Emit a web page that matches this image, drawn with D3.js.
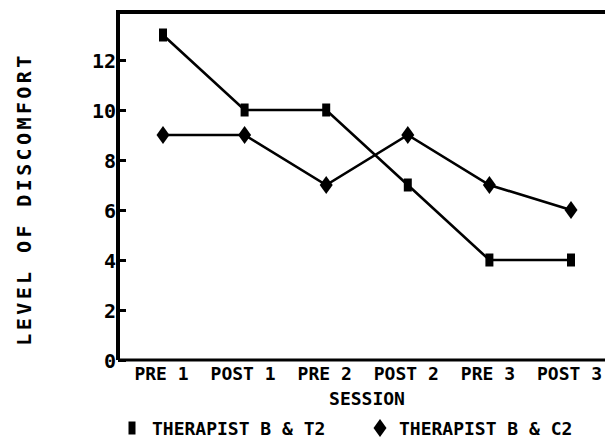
<!DOCTYPE html>
<html>
<head>
<meta charset="utf-8">
<script src="https://cdn.jsdelivr.net/npm/d3@7"></script>
<style>
  body { margin: 0; background: #fff; }
  text { font-family: "DejaVu Sans Mono", monospace; font-weight: bold; fill: #000; }
</style>
</head>
<body>
<svg width="605" height="445"></svg>
<script>
const sessions = ["PRE 1", "POST 1", "PRE 2", "POST 2", "PRE 3", "POST 3"]
const therapistT2 = [13, 10, 10, 7, 4, 4]
const therapistC2 = [9, 9, 7, 9, 7, 6]
const yTicks = [0, 2, 4, 6, 8, 10, 12]
const seriesNames = ["THERAPIST B & T2", "THERAPIST B & C2"]

const svg = d3.select("svg")
const plotLeft = 118, plotTop = 12, plotBottom = 360

const x = d3.scalePoint().domain(sessions).range([163, 571])
const y = d3.scaleLinear().domain([0, 14]).range([plotBottom, plotTop - 2])

// frame: top, left and bottom edges (the right one runs off the page)
svg.append("path")
    .attr("d", `M${plotLeft},${plotBottom}V${plotTop}H605`)
    .attr("fill", "none").attr("stroke", "#000").attr("stroke-width", 4)

// y axis, ticks point inward
const yAxis = svg.append("g")
    .attr("transform", `translate(${plotLeft},0)`)
    .call(d3.axisRight(y).tickValues(yTicks).tickSize(8).tickFormat(d3.format("d")))
yAxis.select(".domain").remove()
yAxis.selectAll("line").attr("stroke-width", 3)
yAxis.selectAll("text")
    .attr("x", -2).attr("text-anchor", "end").attr("dy", "0.35em")
    .style("font-size", "20px")

// x axis
const xAxis = svg.append("g")
    .attr("transform", `translate(0,${plotBottom})`)
    .call(d3.axisBottom(x).tickSize(0).tickPadding(7))
xAxis.select(".domain").attr("d", `M${plotLeft},0H605`).attr("stroke-width", 3)
xAxis.selectAll("text")
    .attr("dx", -2)
    .style("font-size", "18px")

svg.append("text")
    .attr("x", 367).attr("y", 405)
    .attr("text-anchor", "middle")
    .style("font-size", "18px")
    .text("SESSION")

svg.append("text")
    .attr("transform", "translate(31,199) rotate(-90)")
    .attr("text-anchor", "middle")
    .style("font-size", "20px")
    .style("letter-spacing", "3.4px")
    .text("LEVEL OF DISCOMFORT")

const line = d3.line()
    .x((d, i) => x(sessions[i]))
    .y(d => y(d))

const series = [therapistT2, therapistC2]
svg.selectAll(".series")
    .data(series)
    .enter().append("path")
    .attr("class", "series")
    .attr("d", line)
    .attr("fill", "none")
    .attr("stroke", "#000")
    .attr("stroke-width", 2.6)

const square = "M-4,-6.5H4V6.5H-4Z"
const diamond = "M0,-9L6.5,0L0,9L-6.5,0Z"

svg.selectAll(".sq")
    .data(therapistT2)
    .enter().append("path")
    .attr("d", square)
    .attr("transform", (d, i) => `translate(${x(sessions[i])},${y(d)})`)

svg.selectAll(".dm")
    .data(therapistC2)
    .enter().append("path")
    .attr("d", diamond)
    .attr("transform", (d, i) => `translate(${x(sessions[i])},${y(d)})`)

// legend
const legend = svg.append("g")
legend.append("path").attr("d", "M-3.5,-6.5H3.5V6.5H-3.5Z").attr("transform", "translate(132,428)")
legend.append("text").attr("x", 152).attr("y", 435).style("font-size", "18px").text(seriesNames[0])
legend.append("path").attr("d", diamond).attr("transform", "translate(380,428)")
legend.append("text").attr("x", 399).attr("y", 435).style("font-size", "18px").text(seriesNames[1])
</script>
</body>
</html>
